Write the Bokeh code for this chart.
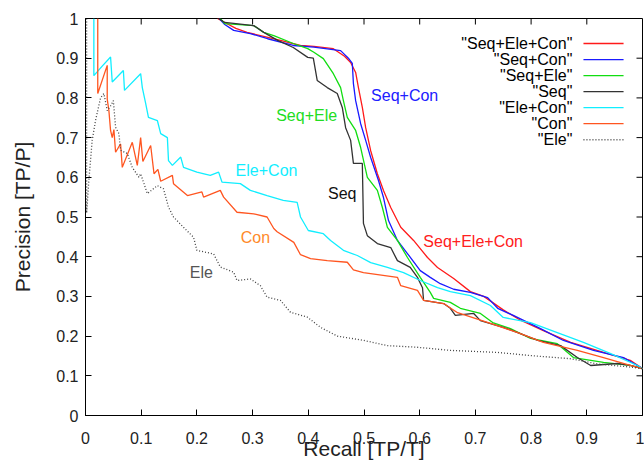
from bokeh.plotting import figure
from bokeh.models import Range1d, FixedTicker, Label, Arrow
from bokeh.embed import file_html
from bokeh.resources import INLINE

# ---------------- data (recall, precision) ----------------
tick_values = [0, 0.1, 0.2, 0.3, 0.4, 0.5, 0.6, 0.7, 0.8, 0.9, 1.0]
tick_labels = ["0", "0.1", "0.2", "0.3", "0.4", "0.5", "0.6", "0.7", "0.8", "0.9", "1"]

series_names = ["Seq+Ele+Con", "Seq+Con", "Seq+Ele", "Seq", "Ele+Con", "Con", "Ele"]

sec_recall = [0.237, 0.25, 0.27, 0.29, 0.32, 0.35, 0.386, 0.41, 0.445, 0.465, 0.476, 0.485, 0.49,
              0.497, 0.503, 0.512, 0.524, 0.535, 0.548, 0.566, 0.589, 0.614, 0.632, 0.661, 0.691,
              0.715, 0.75, 0.781, 0.822, 0.871, 0.93, 0.978, 1.0]
sec_precision = [1.0, 0.99, 0.975, 0.965, 0.955, 0.945, 0.932, 0.93, 0.924, 0.905, 0.889, 0.864, 0.826,
                 0.776, 0.725, 0.667, 0.609, 0.567, 0.524, 0.474, 0.441, 0.398, 0.373, 0.345, 0.312,
                 0.300, 0.266, 0.240, 0.214, 0.184, 0.159, 0.139, 0.118]

sc_recall = [0.24, 0.25, 0.266, 0.296, 0.327, 0.373, 0.41, 0.458, 0.472, 0.479, 0.481, 0.485, 0.494,
             0.503, 0.512, 0.526, 0.535, 0.544, 0.56, 0.578, 0.601, 0.619, 0.637, 0.661, 0.691, 0.722,
             0.74, 0.768, 0.817, 0.858, 0.912, 0.966, 1.0]
sc_precision = [1.0, 0.985, 0.970, 0.962, 0.949, 0.932, 0.928, 0.919, 0.90, 0.887, 0.836, 0.793, 0.735,
                0.693, 0.65, 0.592, 0.549, 0.491, 0.441, 0.408, 0.365, 0.348, 0.332, 0.318, 0.310, 0.297,
                0.270, 0.252, 0.219, 0.189, 0.164, 0.146, 0.118]

se_recall = [0.242, 0.25, 0.302, 0.32, 0.338, 0.373, 0.399, 0.41, 0.427, 0.445, 0.458, 0.463, 0.47,
             0.485, 0.494, 0.506, 0.524, 0.533, 0.542, 0.56, 0.578, 0.601, 0.619, 0.625, 0.655, 0.673,
             0.709, 0.731, 0.763, 0.799, 0.847, 0.876, 0.93, 0.978, 1.0]
se_precision = [1.0, 0.987, 0.982, 0.965, 0.957, 0.937, 0.924, 0.915, 0.899, 0.861, 0.826, 0.793, 0.751,
                0.718, 0.675, 0.6, 0.567, 0.524, 0.474, 0.441, 0.398, 0.348, 0.310, 0.295, 0.285, 0.270,
                0.257, 0.234, 0.219, 0.194, 0.181, 0.146, 0.134, 0.126, 0.118]

s_recall = [0.239, 0.25, 0.302, 0.32, 0.345, 0.373, 0.399, 0.409, 0.416, 0.434, 0.452, 0.461, 0.467,
            0.476, 0.481, 0.497, 0.499, 0.506, 0.524, 0.548, 0.56, 0.583, 0.596, 0.605, 0.607, 0.643,
            0.655, 0.664, 0.697, 0.709, 0.75, 0.776, 0.812, 0.853, 0.883, 0.907, 0.955, 0.978, 1.0]
s_precision = [1.0, 0.99, 0.982, 0.965, 0.945, 0.927, 0.902, 0.900, 0.844, 0.826, 0.811, 0.776, 0.725,
               0.693, 0.635, 0.635, 0.484, 0.453, 0.433, 0.423, 0.39, 0.373, 0.348, 0.322, 0.29, 0.282,
               0.27, 0.252, 0.257, 0.239, 0.222, 0.209, 0.189, 0.176, 0.146, 0.126, 0.131, 0.126, 0.118]

ec_recall = [0.015, 0.015, 0.030, 0.045, 0.048, 0.068, 0.07, 0.099, 0.102, 0.108, 0.113, 0.129, 0.135,
             0.147, 0.149, 0.156, 0.171, 0.176, 0.2, 0.224, 0.239, 0.245, 0.278, 0.296, 0.326, 0.355,
             0.38, 0.386, 0.4, 0.427, 0.44, 0.463, 0.488, 0.512, 0.542, 0.571, 0.601, 0.632, 0.655,
             0.691, 0.727, 0.75, 0.799, 0.847, 0.894, 0.943, 0.991, 1.0]
ec_precision = [1.0, 0.856, 0.880, 0.903, 0.840, 0.869, 0.819, 0.861, 0.826, 0.786, 0.751, 0.743, 0.71,
                0.70, 0.642, 0.63, 0.651, 0.625, 0.613, 0.605, 0.613, 0.588, 0.584, 0.567, 0.554, 0.542,
                0.537, 0.50, 0.466, 0.458, 0.441, 0.416, 0.403, 0.385, 0.373, 0.36, 0.34, 0.322, 0.312,
                0.302, 0.277, 0.247, 0.234, 0.209, 0.184, 0.156, 0.126, 0.118]

c_recall = [0.022, 0.022, 0.039, 0.039, 0.042, 0.045, 0.048, 0.051, 0.054, 0.063, 0.066, 0.084, 0.093,
            0.099, 0.103, 0.117, 0.123, 0.13, 0.135, 0.156, 0.158, 0.183, 0.209, 0.212, 0.242, 0.248,
            0.272, 0.302, 0.326, 0.338, 0.344, 0.374, 0.386, 0.404, 0.434, 0.47, 0.481, 0.499, 0.56,
            0.566, 0.596, 0.607, 0.643, 0.668, 0.727, 0.776, 0.822, 0.883, 0.93, 0.978, 1.0]
c_precision = [1.0, 0.811, 0.882, 0.797, 0.768, 0.718, 0.70, 0.72, 0.663, 0.684, 0.625, 0.688, 0.63,
               0.70, 0.64, 0.68, 0.609, 0.62, 0.59, 0.605, 0.584, 0.554, 0.563, 0.55, 0.567, 0.55,
               0.512, 0.508, 0.50, 0.471, 0.463, 0.436, 0.405, 0.395, 0.39, 0.386, 0.367, 0.36, 0.348,
               0.327, 0.315, 0.29, 0.282, 0.259, 0.232, 0.209, 0.184, 0.164, 0.146, 0.126, 0.118]

e_recall = [0.002, 0.002, 0.006, 0.012, 0.018, 0.027, 0.033, 0.039, 0.045, 0.05, 0.054, 0.06, 0.063,
            0.075, 0.084, 0.096, 0.099, 0.111, 0.129, 0.14, 0.149, 0.158, 0.176, 0.194, 0.2, 0.23,
            0.242, 0.266, 0.272, 0.296, 0.314, 0.326, 0.35, 0.368, 0.398, 0.422, 0.452, 0.5, 0.542,
            0.595, 0.655, 0.739, 0.799, 0.871, 0.919, 0.978, 1.0]
e_precision = [1.0, 0.51, 0.592, 0.693, 0.743, 0.80, 0.811, 0.768, 0.78, 0.793, 0.726, 0.71, 0.668,
               0.66, 0.625, 0.600, 0.609, 0.559, 0.579, 0.571, 0.525, 0.50, 0.474, 0.449, 0.416, 0.407,
               0.374, 0.361, 0.34, 0.344, 0.327, 0.298, 0.29, 0.26, 0.248, 0.222, 0.200, 0.189, 0.176,
               0.172, 0.164, 0.159, 0.151, 0.143, 0.13, 0.122, 0.118]

# ---------------- styles ----------------
FONT = "Liberation Sans"
W, H = 644, 462
B_LEFT, B_RIGHT, B_TOP, B_BOTTOM = 85, 2, 18, 47
styles = [
    # (recall, precision, line colour, dash, label colour, label position)
    (sec_recall, sec_precision, "#ff1a1a", "solid", "#ff2020", (0.696, 0.439)),
    (sc_recall, sc_precision, "#1a1aff", "solid", "#2020ff", (0.573, 0.806)),
    (se_recall, se_precision, "#11dd11", "solid", "#22dd22", (0.397, 0.756)),
    (s_recall, s_precision, "#333333", "solid", "#111111", (0.461, 0.559)),
    (ec_recall, ec_precision, "#11eeff", "solid", "#11eeff", (0.325, 0.617)),
    (c_recall, c_precision, "#ff5520", "solid", "#ff8a2a", (0.305, 0.448)),
    (e_recall, e_precision, "#444444", "1 2", "#555555", (0.208, 0.361)),
]

p = figure(width=W, height=H, output_backend="svg", toolbar_location=None,
           x_range=Range1d(0, 1), y_range=Range1d(0, 1),
           min_border_left=B_LEFT, min_border_right=B_RIGHT, min_border_top=B_TOP,
           min_border_bottom=B_BOTTOM,
           background_fill_color="white", border_fill_color="white")
p.grid.visible = False
p.outline_line_color = "black"
p.outline_line_width = 1

for (xs, ys, col, dash, lcol, pos), name in zip(styles, series_names):
    p.line(xs, ys, line_color=col, line_width=1.3, line_dash=dash)
    p.add_layout(Label(x=pos[0], y=pos[1], text=name, text_color=lcol, text_font=FONT,
                       text_font_size="16px", text_align="center", text_baseline="middle"))

# legend (text on the left, sample line on the right, as in the reference)
leg_text_x = 0.874
leg_line_x0, leg_line_x1 = 0.894, 0.966
leg_top, leg_step = 0.937, 0.0404
for i, ((xs, ys, col, dash, lcol, pos), name) in enumerate(zip(styles, series_names)):
    yy = leg_top - i * leg_step
    p.add_layout(Label(x=leg_text_x, y=yy, text='"' + name + '"', text_color="black", text_font=FONT,
                       text_font_size="16px", text_align="right", text_baseline="middle"))
    p.add_layout(Arrow(end=None, x_start=leg_line_x0, y_start=yy, x_end=leg_line_x1, y_end=yy,
                       line_color=col, line_width=1.3, line_dash=dash))

overrides = {v: t for v, t in zip(tick_values, tick_labels)}

for ax in (p.xaxis[0], p.yaxis[0]):
    ax.ticker = FixedTicker(ticks=tick_values)
    ax.major_label_overrides = overrides
    ax.major_tick_in = 6
    ax.major_tick_out = 0
    ax.minor_tick_in = 0
    ax.minor_tick_out = 0
    ax.axis_line_color = "black"
    ax.major_tick_line_color = "black"
    ax.major_label_text_font = FONT
    ax.major_label_text_font_size = "16px"
    ax.major_label_text_color = "#222222"
    ax.axis_label_text_font = FONT
    ax.axis_label_text_font_size = "21px"
    ax.axis_label_text_font_style = "normal"
    ax.axis_label_text_color = "#222222"

p.xaxis[0].axis_label = "Recall [TP/T]"
p.yaxis[0].axis_label = "Precision [TP/P]"
p.xaxis[0].major_label_standoff = 16
p.xaxis[0].axis_label_standoff = -10
p.yaxis[0].major_label_standoff = 7
p.yaxis[0].axis_label_standoff = 19

# mirrored inward tick marks on the top and right edges of the frame
frame_w = W - B_LEFT - B_RIGHT
frame_h = H - B_TOP - B_BOTTOM
tick_len_x = 6.0 / frame_w
tick_len_y = 6.0 / frame_h
inner = [t for t in tick_values if 0 < t < 1]
p.segment(x0=inner, y0=[1.0] * len(inner), x1=inner, y1=[1.0 - tick_len_y] * len(inner),
          line_color="black", line_width=1)
p.segment(x0=[1.0] * len(inner), y0=inner, x1=[1.0 - tick_len_x] * len(inner), y1=inner,
          line_color="black", line_width=1)

open("out.html", "w").write(file_html(p, INLINE))
